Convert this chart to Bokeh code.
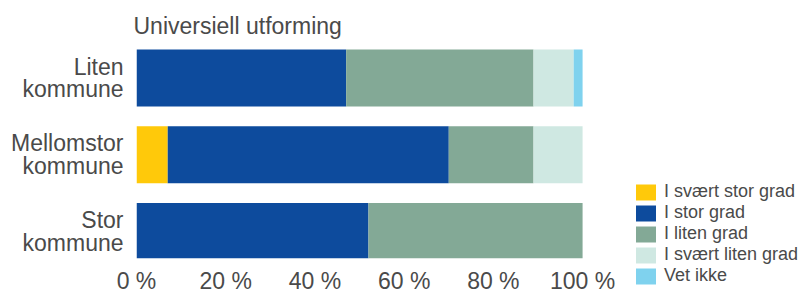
from bokeh.plotting import figure
from bokeh.layouts import row
from bokeh.models import (ColumnDataSource, Range1d, FixedTicker, PrintfTickFormatter,
                          Legend, LegendItem)
from bokeh.embed import file_html
from bokeh.resources import INLINE

title_text = "Universiell utforming"
categories = ["Liten\nkommune", "Mellomstor\nkommune", "Stor\nkommune"]
series = ["I svært stor grad", "I stor grad", "I liten grad", "I svært liten grad", "Vet ikke"]
svaert_stor = [0, 7, 0]
stor = [47, 63, 52]
liten = [42, 19, 48]
svaert_liten = [9, 11, 0]
vet_ikke = [2, 0, 0]
x_ticks = [0, 20, 40, 60, 80, 100]
colors = ["#FFC90A", "#0D4B9D", "#83A996", "#CFE8E2", "#7FD2EE"]

ypos = [len(categories) - 1 - i for i in range(len(categories))]
keys = ["s0", "s1", "s2", "s3", "s4"]
src = ColumnDataSource(dict(y=ypos, s0=svaert_stor, s1=stor, s2=liten, s3=svaert_liten, s4=vet_ikke))

FONT = "Liberation Sans"
TXT = "#4a4a4a"

p = figure(width=620, height=296, output_backend="svg", toolbar_location=None,
           x_range=Range1d(0, 108.5), y_range=Range1d(-0.352, 2.5016),
           min_border_left=136, min_border_right=0, min_border_top=39, min_border_bottom=0)
p.frame_align = False
p.outline_line_color = None
p.xgrid.visible = False
p.ygrid.visible = False

rs = p.hbar_stack(keys, y="y", height=0.74, color=colors, source=src, line_color=None)

p.title.text = title_text
p.title.text_font = FONT
p.title.text_font_size = "23px"
p.title.text_font_style = "normal"
p.title.text_color = TXT
p.title.align = "left"
p.title.offset = -3
p.title.standoff = 2

xa = p.xaxis[0]
xa.ticker = FixedTicker(ticks=x_ticks)
xa.formatter = PrintfTickFormatter(format="%d %%")
xa.axis_line_color = None
xa.major_tick_line_color = None
xa.minor_tick_line_color = None
xa.major_tick_out = 0
xa.major_label_standoff = 9
xa.major_label_text_font = FONT
xa.major_label_text_font_size = "23px"
xa.major_label_text_color = TXT

ya = p.yaxis[0]
ya.ticker = FixedTicker(ticks=ypos)
ya.major_label_overrides = {y: c for y, c in zip(ypos, categories)}
ya.axis_line_color = None
ya.major_tick_line_color = None
ya.minor_tick_line_color = None
ya.major_tick_out = 0
ya.major_label_standoff = 13
ya.major_label_text_font = FONT
ya.major_label_text_font_size = "23px"
ya.major_label_text_line_height = 0.87
ya.major_label_text_color = TXT

# legend panel (swatch renderers have zero size, so only their legend swatches show)
pl = figure(width=178, height=296, output_backend="svg", toolbar_location=None,
            x_range=Range1d(0, 1), y_range=Range1d(0, 1), x_axis_type=None, y_axis_type=None,
            min_border_left=0, min_border_right=0, min_border_top=0, min_border_bottom=0)
pl.frame_align = False
pl.outline_line_color = None
pl.xgrid.visible = False
pl.ygrid.visible = False
lrs = [pl.hbar(y=[0.5], left=[0], right=[0], height=0, color=c, line_color=None) for c in colors]

legend = Legend(items=[LegendItem(label=s, renderers=[r]) for s, r in zip(series, lrs)],
                location=(13, 10), orientation="vertical",
                glyph_width=25, glyph_height=20, label_height=20, spacing=0,
                label_standoff=6, padding=0, margin=0,
                label_text_font=FONT, label_text_font_size="18px", label_text_color=TXT,
                label_text_line_height=0.9,
                border_line_color=None, background_fill_alpha=0)
pl.add_layout(legend, "center")

layout = row(p, pl)
open("out.html", "w").write(file_html(layout, INLINE))
